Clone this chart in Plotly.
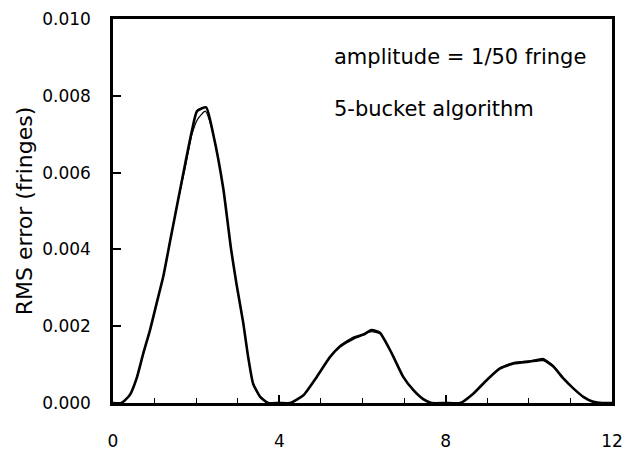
import plotly.graph_objects as go

# Data (x in fringes of tilt, y = RMS error in fringes)
x_a = [0, 0.2, 0.4, 0.57, 0.73, 0.89, 1.05, 1.21, 1.37, 1.55, 1.73, 1.9, 2.02, 2.24, 2.41, 2.65, 2.84,
       2.97, 3.13, 3.25, 3.37, 3.54, 3.73, 4.0, 4.26, 4.58, 4.9, 5.22, 5.46, 5.78, 6.02, 6.22, 6.42,
       6.7, 6.98, 7.22, 7.46, 7.66, 8.0, 8.35, 8.67, 8.99, 9.31, 9.63, 10.03, 10.35, 10.59, 10.83,
       11.07, 11.31, 11.55, 11.78, 12.0]
y_a = [0, 0, 0.0002, 0.00065, 0.0013, 0.0019, 0.0026, 0.0033, 0.0042, 0.0052, 0.0062, 0.0071, 0.0076,
       0.0077, 0.0070, 0.0056, 0.0040, 0.0031, 0.0021, 0.0012, 0.0005, 0.00016, 0, 0, 0, 0.0002,
       0.00068, 0.0012, 0.00147, 0.00168, 0.00178, 0.0019, 0.00183, 0.0013, 0.00068, 0.00034,
       0.0001, 0, 0, 0, 0.00025, 0.0006, 0.0009, 0.00103, 0.00108, 0.00112, 0.00095, 0.00064,
       0.00038, 0.00016, 0.00003, 0, 0]

x_b = [0, 0.2, 0.4, 0.57, 0.73, 0.89, 1.05, 1.21, 1.37, 1.55, 1.73, 1.9, 2.04, 2.22, 2.41, 2.65, 2.84,
       2.97, 3.13, 3.25, 3.37, 3.54, 3.73, 4.0, 4.26, 4.58, 4.9, 5.22, 5.46, 5.78, 6.02, 6.22, 6.42,
       6.7, 6.98, 7.22, 7.46, 7.66, 8.0, 8.35, 8.67, 8.99, 9.31, 9.63, 10.03, 10.35, 10.59, 10.83,
       11.07, 11.31, 11.55, 11.78, 12.0]
y_b = [0, 0, 0.0002, 0.00066, 0.0013, 0.0019, 0.0026, 0.0033, 0.0042, 0.0052, 0.0061, 0.0070, 0.0074,
       0.0076, 0.0070, 0.0056, 0.0040, 0.0031, 0.0021, 0.0012, 0.0005, 0.00016, 0, 0, 0, 0.0002,
       0.00068, 0.0012, 0.0015, 0.00172, 0.0018, 0.00186, 0.0018, 0.0013, 0.00068, 0.00034,
       0.0001, 0, 0, 0, 0.00025, 0.0006, 0.00092, 0.00105, 0.0011, 0.00116, 0.00097, 0.00064,
       0.00038, 0.00016, 0.00003, 0, 0]

x_tickvals = [0, 4, 8, 12]
y_tickvals = [0.0, 0.002, 0.004, 0.006, 0.008, 0.010]
y_ticktext = ["0.000", "0.002", "0.004", "0.006", "0.008", "0.010"]

label_line1 = "amplitude = 1/50 fringe"
label_line2 = "5-bucket algorithm"

FONT = "DejaVu Sans"

fig = go.Figure()
fig.add_trace(go.Scatter(x=x_a, y=y_a, mode="lines",
                         line=dict(color="black", width=2.6, shape="spline", smoothing=0.5),
                         showlegend=False))
fig.add_trace(go.Scatter(x=x_b, y=y_b, mode="lines",
                         line=dict(color="black", width=1.2, shape="spline", smoothing=0.5),
                         showlegend=False))

fig.add_annotation(x=5.27, y=0.00901, xref="x", yref="y", text=label_line1, showarrow=False,
                   xanchor="left", yanchor="middle", font=dict(family=FONT, size=21, color="black"))
fig.add_annotation(x=5.27, y=0.00765, xref="x", yref="y", text=label_line2, showarrow=False,
                   xanchor="left", yanchor="middle", font=dict(family=FONT, size=21, color="black"))

fig.update_layout(
    width=637, height=456,
    margin=dict(l=113, r=25, t=19, b=53, autoexpand=False),
    paper_bgcolor="white", plot_bgcolor="white",
    font=dict(family=FONT, size=17, color="black"),
)
fig.update_xaxes(
    range=[0, 12], tickvals=x_tickvals, ticks="inside", ticklen=8, tickwidth=1.5,
    tickcolor="black", showgrid=False, zeroline=False, automargin=False,
    showline=True, linecolor="black", linewidth=2.5, mirror=True,
    ticklabelstandoff=21,
    minor=dict(dtick=1, ticks="inside", ticklen=5, tickwidth=1.2, tickcolor="black", showgrid=False),
)
fig.update_yaxes(
    range=[0, 0.010], tickvals=y_tickvals, ticktext=y_ticktext, ticks="inside", ticklen=8,
    tickwidth=1.5, tickcolor="black", showgrid=False, zeroline=False, automargin=False,
    showline=True, linecolor="black", linewidth=2.5, mirror=True,
    ticklabelstandoff=16,
    title=dict(text="RMS error (fringes)", standoff=4, font=dict(family=FONT, size=22)),
)

fig.write_html("out.html")
